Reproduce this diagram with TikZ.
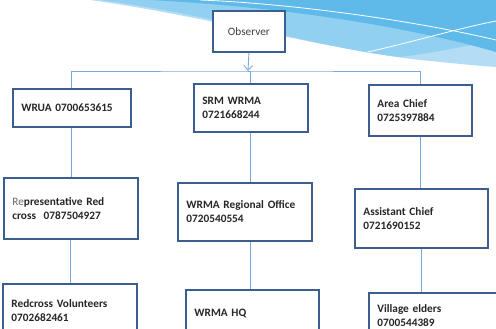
\documentclass[tikz,border=0pt]{standalone}
\usepackage{fontspec}
\setmainfont{Carlito}
\usetikzlibrary{arrows.meta, positioning, calc}
\definecolor{boxBlue}{HTML}{3A5F8E}
\definecolor{linkBlue}{HTML}{7FA8DA}
\definecolor{textGrey}{HTML}{262626}
\definecolor{waveDark}{HTML}{60BAE9}
\definecolor{waveMid}{HTML}{92D0F2}
\definecolor{waveLight}{HTML}{B4DDF5}
\tikzset{
  box/.style 2 args={draw=boxBlue, line width=1.8pt, fill=white, anchor=north west,
               minimum width=#1pt, minimum height=#2pt, text width=#1pt-17pt,
               inner xsep=8.5pt, align=left, text=textGrey,
               font=\bfseries\fontsize{11.3}{13.8}\selectfont},
  obsbox/.style={draw=boxBlue, line width=1.8pt, fill=white, anchor=north west,
               minimum width=72pt, minimum height=41pt, text=black!75,
               font=\fontsize{11.3}{13.8}\selectfont},
  link/.style={draw=linkBlue, line width=0.9pt},
}

\begin{document}
\begin{tikzpicture}[x=1pt, y=-1pt]
\clip (0,0) rectangle (496,329);
% wave in the corner
\fill[waveLight] (90,0) .. controls (200,15) and (330,50) .. (420,60)
  .. controls (450,63) and (480,66) .. (496,67) -- (496,0) -- cycle;
\fill[waveMid] (100,0) .. controls (210,14) and (320,48) .. (400,57)
  .. controls (440,52) and (470,45) .. (496,40) -- (496,0) -- cycle;
\fill[waveDark] (150,0) .. controls (300,8) and (420,30) .. (496,52) -- (496,0) -- cycle;
\draw[white, line width=0.8pt] (200,0) .. controls (300,4) and (420,22) .. (496,40);
\draw[white, line width=0.8pt] (368,52) .. controls (420,40) and (460,28) .. (496,21);

% boxes
\node[obsbox] (obs) at (212,10) {Observer};
\node[box={118}{38}] (wrua) at (12,88) {WRUA 0700653615};
\node[box={114}{48}] (srm) at (193,83) {SRM WRMA\\0721668244};
\node[box={103}{51}] (chief) at (368,84) {Area Chief\\0725397884};
\node[box={134}{61}] (rep) at (3,177) {{\mdseries\color{black!60}Re}presentative Red\\cross\ \ 0787504927};
\node[box={134}{58}] (region) at (177,182) {WRMA Regional Office\\0720540554};
\node[box={133}{59}] (asst) at (354,188) {Assistant Chief\\0721690152};
\node[box={134}{54}] (redx) at (2,283) {Redcross Volunteers\\0702682461};
\node[box={133}{48}] (hq) at (185,289) {WRMA HQ};
\node[box={140}{45}] (elders) at (368,292) {Village elders\\0700544389};

% connectors
\coordinate (bar) at (248,71);
\draw[link, -{Straight Barb[length=5pt, width=9pt]}] (obs.south) -- (bar);
\draw[link] (wrua.north) |- (bar) -| (chief.north);
\draw[link] (bar) -- (bar -| srm.north) -- (srm.north);
\foreach \a/\b in {wrua/rep, rep/redx, srm/region, chief/asst, asst/elders}
  \draw[link] (\a.south) -- (\a.south |- \b.north);
\draw[link] (srm.south |- region.south) -- (srm.south |- hq.north);
\end{tikzpicture}
\end{document}
